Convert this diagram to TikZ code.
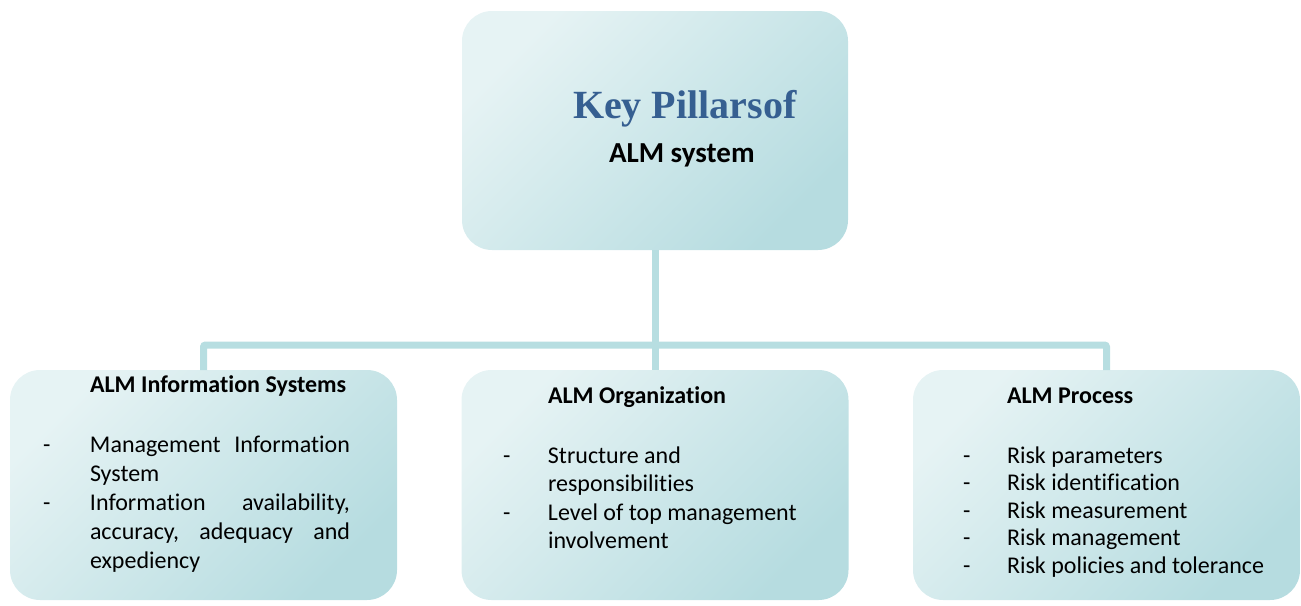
\documentclass[tikz,border=0pt]{standalone}
\usepackage{fontspec}
\setmainfont{Carlito}[Ligatures=NoCommon]
\newfontfamily\titlefont{Liberation Serif}
\usetikzlibrary{calc}

\definecolor{boxlight}{HTML}{E6F3F4}
\definecolor{boxdark}{HTML}{B6DCE0}
\definecolor{linkcol}{HTML}{B7DEE1}
\definecolor{titleblue}{HTML}{365F91}

\begin{document}
\begin{tikzpicture}[x=1pt,y=-1pt,inner sep=0pt,outer sep=0pt,
    pillar/.style={rounded corners=30pt, left color=boxlight, right color=boxdark,
      shading angle=45, minimum width=387pt, minimum height=230pt},
    link/.style={draw=linkcol, line width=7pt, rounded corners=2pt},
    head/.style={anchor=base west, font=\fontsize{24}{29}\selectfont\bfseries},
    body/.style={anchor=base west, align=left}]
    \useasboundingbox (0,0) rectangle (1301,605);

    % key pillars
    \node[pillar, minimum width=386pt, minimum height=239pt] (keybox) at (655,130.5) {};
    \node[anchor=base west, text=titleblue,
      font=\titlefont\bfseries\fontsize{40}{48}\selectfont] (keytitle) at (573,118)
    {Key Pillarsof};
    \node[anchor=base west, font=\fontsize{29}{35}\selectfont\bfseries] (keysub)
    at (609,162) {ALM system};

    % pillars
    \node[pillar] (infobox) at (203.5,485) {};
    \node[pillar] (orgbox) at (655,485) {};
    \node[pillar] (procbox) at (1106.5,485) {};

    % tree
    \coordinate (bar) at (655,345);
    \draw[link] (keybox.south) -- (orgbox.north);
    \draw[link] (infobox.north) |- (bar) -| (procbox.north);

    % information systems
    \node[head] (infohead) at (90,392) {ALM Information Systems};
    \node[body, font=\fontsize{24}{29}\selectfont] (infolist) at (43,452)
    {
    \begin{tabular}[t]{@{}p{47pt}@{}p{260pt}@{}}
    - & Management\hfill Information \\
      & System \\
    - & Information\hfill availability, \\
      & accuracy,\hfill adequacy\hfill and \\
      & expediency \\
    \end{tabular}
    };

    % organization
    \node[head] (orghead) at (548,403) {ALM Organization};
    \node[body, font=\fontsize{24}{28.5}\selectfont] (orglist) at (503,463)
    {
    \begin{tabular}[t]{@{}p{45pt}@{}l@{}}
    - & Structure and \\
      & responsibilities \\
    - & Level of top management \\
      & involvement \\
    \end{tabular}
    };

    % process
    \node[head] (prochead) at (1007,403) {ALM Process};
    \node[body, font=\fontsize{24}{27.5}\selectfont] (proclist) at (963,463)
    {
    \begin{tabular}[t]{@{}p{44pt}@{}l@{}}
    - & Risk parameters \\
    - & Risk identification \\
    - & Risk measurement \\
    - & Risk management \\
    - & Risk policies and tolerance \\
    \end{tabular}
    };

\end{tikzpicture}
\end{document}
